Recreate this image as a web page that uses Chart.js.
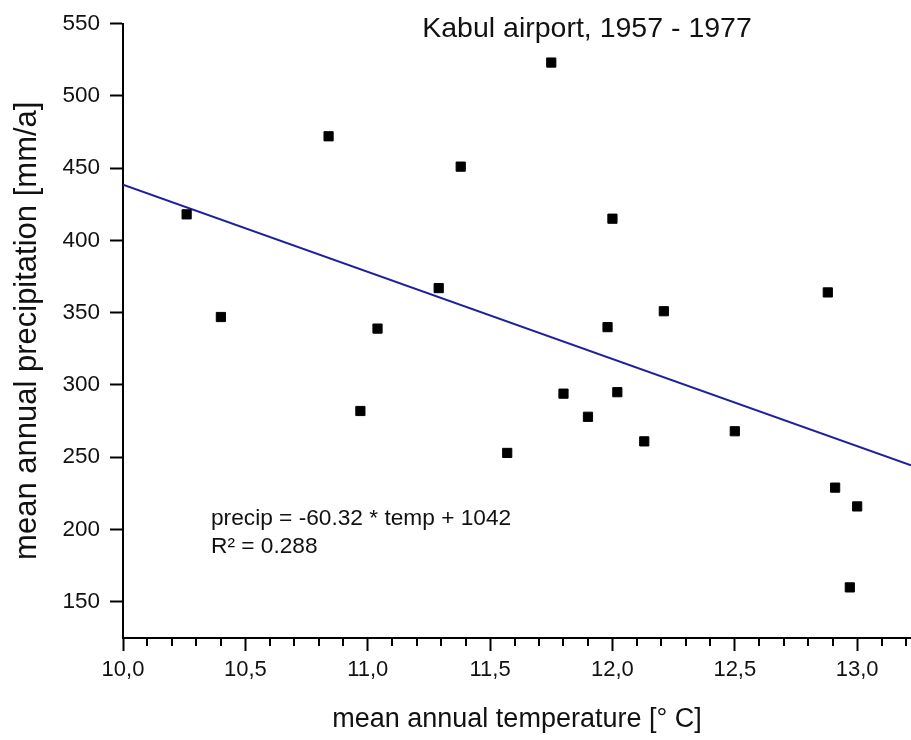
<!DOCTYPE html>
<html>
<head>
<meta charset="utf-8">
<title>Kabul airport, 1957 - 1977</title>
<script src="https://cdn.jsdelivr.net/npm/chart.js@4"></script>
<style>
  html, body { margin: 0; padding: 0; background: #fff; overflow: hidden; }
  #wrap { width: 911px; height: 740px; position: relative; }
  #wrap canvas { display: block; }
</style>
</head>
<body>
<div id="wrap"><canvas id="scatter"></canvas></div>
<script>
// values
const tempC = [10.26, 10.40, 10.84, 10.97, 11.04, 11.29, 11.38, 11.57, 11.75, 11.80, 11.90,
               11.98, 12.00, 12.02, 12.13, 12.21, 12.50, 12.88, 12.91, 13.00, 12.97];
const precipMm = [418, 347, 472, 282, 339, 367, 451, 253, 523, 294, 278,
                  340, 415, 295, 261, 351, 268, 364, 229, 216, 160];

// regression line end points (as drawn)
const fitX = [10.0, 13.22];
const fitY = [438.5, 244.5];

const titleText = 'Kabul airport, 1957 - 1977';
const fitLabel = ['precip = -60.32 * temp + 1042', 'R\u00b2 = 0.288'];
const xTitle = 'mean annual temperature [\u00b0 C]';
const yTitle = 'mean annual precipitation [mm/a]';

const FONT = '"Liberation Sans", Arial, sans-serif';

// minor ticks on the x axis + title and equation text inside the plot
const extras = {
    id: 'extras',
    afterDraw(chart) {
        const ctx = chart.ctx;
        const x = chart.scales.x;
        const area = chart.chartArea;
        ctx.save();
        ctx.strokeStyle = '#000';
        ctx.lineWidth = 2;
        ctx.beginPath();
        for (let i = 1; i * 0.1 + 10 <= x.max + 1e-9; i++) {
            if (i % 5 === 0) continue;
            const px = Math.round(x.getPixelForValue(10 + i * 0.1));
            ctx.moveTo(px, area.bottom);
            ctx.lineTo(px, area.bottom + 8);
        }
        ctx.stroke();

        ctx.fillStyle = '#111';
        ctx.textBaseline = 'alphabetic';
        ctx.textAlign = 'center';
        ctx.font = '28.5px ' + FONT;
        ctx.fillText(titleText, 587, 37);

        ctx.textAlign = 'left';
        ctx.textBaseline = 'middle';
        ctx.font = '22.7px ' + FONT;
        ctx.fillText(fitLabel[0], 211, 519);
        ctx.fillText(fitLabel[1], 211, 547);
        ctx.restore();
    }
};

new Chart(document.getElementById('scatter'), {
    type: 'scatter',
    data: {
        datasets: [
            {
                label: 'years',
                data: tempC.map((t, i) => ({ x: t, y: precipMm[i] })),
                pointStyle: 'rect',
                pointRadius: 6.5,
                pointHoverRadius: 6.5,
                backgroundColor: '#000',
                borderColor: '#000',
                borderWidth: 1,
                order: 1
            },
            {
                type: 'line',
                label: 'fit',
                data: fitX.map((t, i) => ({ x: t, y: fitY[i] })),
                borderColor: '#1f1f9e',
                borderWidth: 2,
                pointRadius: 0,
                fill: false,
                order: 2
            }
        ]
    },
    options: {
        responsive: true,
        maintainAspectRatio: false,
        animation: false,
        layout: { autoPadding: false, padding: { top: 23, right: 0, left: 0, bottom: 0 } },
        plugins: {
            legend: { display: false },
            tooltip: { enabled: false }
        },
        scales: {
            x: {
                type: 'linear',
                min: 10,
                max: 13.22,
                afterFit: s => { s.height = 102; s.paddingRight = 0; s.paddingLeft = 0; },
                border: { color: '#000', width: 2 },
                grid: { drawOnChartArea: false, tickLength: 13, tickColor: '#000', tickWidth: 2 },
                ticks: {
                    stepSize: 0.5,
                    includeBounds: false,
                    padding: 6,
                    color: '#111',
                    font: { family: FONT, size: 22 },
                    callback: v => v.toFixed(1).replace('.', ',')
                },
                title: {
                    display: true,
                    text: xTitle,
                    color: '#111',
                    font: { family: FONT, size: 27 },
                    padding: { top: 0, bottom: 4 }
                }
            },
            y: {
                min: 125,
                max: 550,
                afterFit: s => { s.width = 123; },
                border: { color: '#000', width: 2 },
                grid: { drawOnChartArea: false, tickLength: 13, tickColor: '#000', tickWidth: 2 },
                ticks: {
                    stepSize: 50,
                    includeBounds: false,
                    padding: 10,
                    color: '#111',
                    font: { family: FONT, size: 22.5 }
                },
                title: {
                    display: true,
                    text: yTitle,
                    color: '#111',
                    font: { family: FONT, size: 31 },
                    padding: { top: 9, bottom: 0 }
                }
            }
        }
    },
    plugins: [extras]
});
</script>
</body>
</html>
